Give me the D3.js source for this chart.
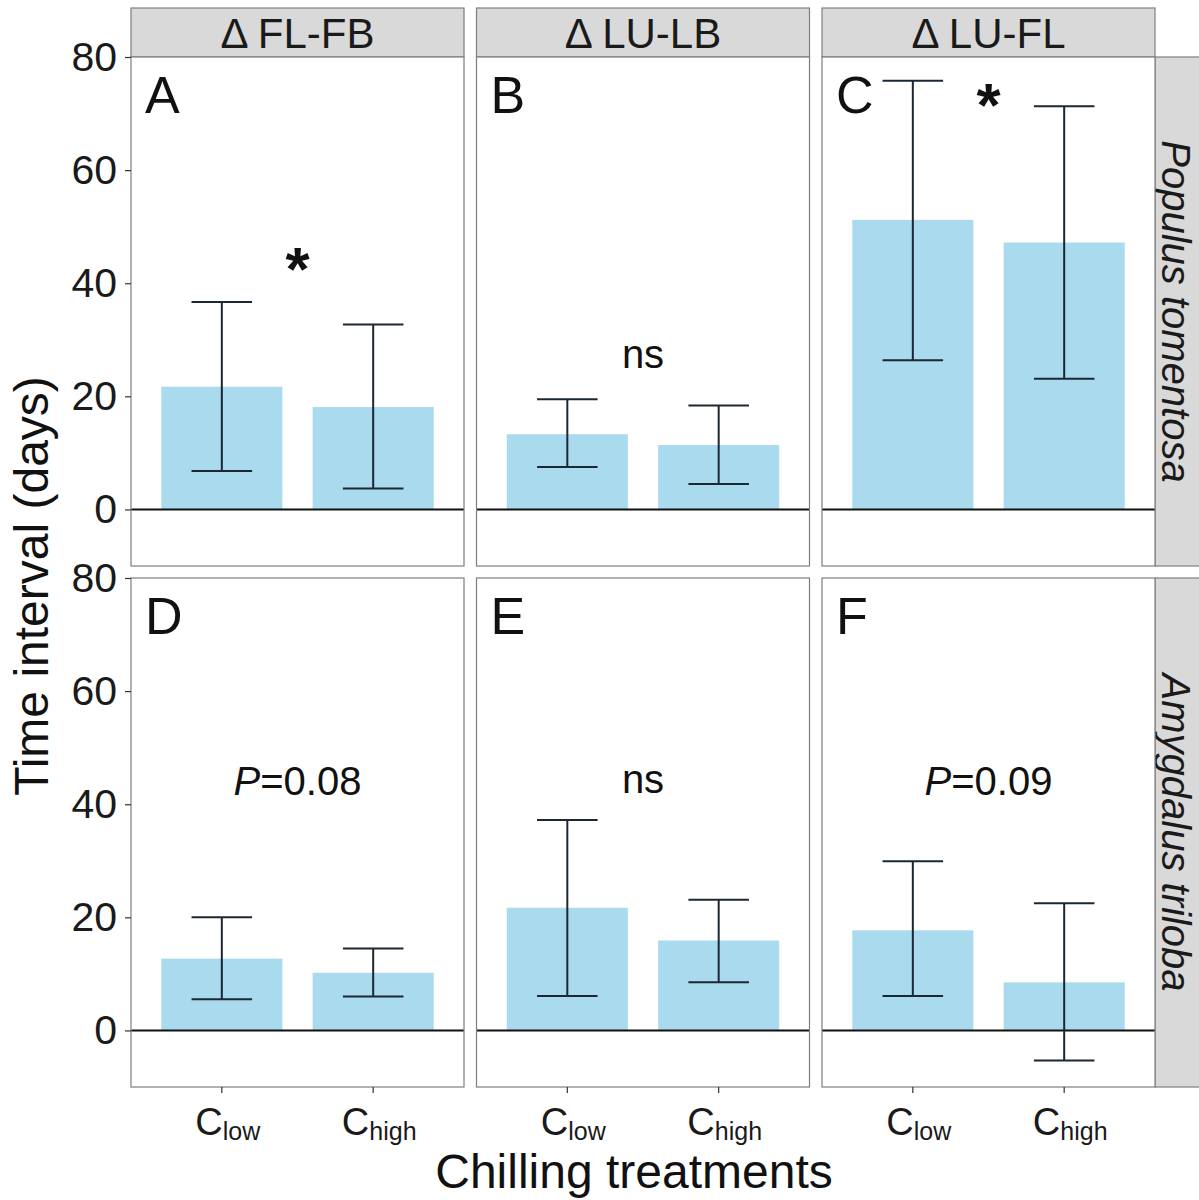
<!DOCTYPE html>
<html>
<head>
<meta charset="utf-8">
<script src="https://cdn.jsdelivr.net/npm/d3@7"></script>
<style>
  html, body { margin: 0; padding: 0; background: #fff; }
  svg { display: block; font-family: "Liberation Sans", Arial, Helvetica, sans-serif; }
</style>
</head>
<body>
<svg id="chart" width="1199" height="1200"></svg>
<script>
// ---- data ----
const categories = ["low", "high"];               // chilling treatments (C_low, C_high)
const traits = ["Δ FL-FB", "Δ LU-LB", "Δ LU-FL"]; // column strips
const species = ["Populus tomentosa", "Amygdalus triloba"]; // row strips
const panelLetters = ["A", "B", "C", "D", "E", "F"];
const meanValues  = [[21.7, 18.1], [13.3, 11.4], [51.2, 47.2], [12.7, 10.2], [21.7, 15.9], [17.7, 8.5]];
const lowerValues = [[6.8, 3.7],   [7.5, 4.5],   [26.4, 23.1], [5.5, 6.0],   [6.1, 8.5],   [6.1, -5.3]];
const upperValues = [[36.7, 32.7], [19.5, 18.4], [75.8, 71.3], [20.0, 14.5], [37.2, 23.1], [29.9, 22.5]];
const annotationText = ["*", "ns", "*", "P=0.08", "ns", "P=0.09"];
const annotationY = [38.8, 25.0, 67.8, 41.7, 42.0, 41.7];
const yTicks = [0, 20, 40, 60, 80];
const yDomain = [-10, 80];

// ---- layout ----
const svg = d3.select("#chart");
const colX = [131, 476.5, 822];
const panelW = 333;
const rowY = [57, 578];
const panelH = 509;
const stripH = 49;
const barColor = "#a9daed";
const borderColor = "#7f7f7f";

const x = d3.scaleBand().domain(categories).range([0, panelW]).paddingInner(0.2).paddingOuter(0.2);
const y = d3.scaleLinear().domain(yDomain).range([panelH, 0]);

// top strips
traits.forEach((t, c) => {
  const g = svg.append("g").attr("transform", `translate(${colX[c]},${rowY[0] - stripH})`);
  g.append("rect").attr("width", panelW).attr("height", stripH)
    .attr("fill", "#d9d9d9").attr("stroke", borderColor).attr("stroke-width", 1.2);
  g.append("text").attr("x", panelW / 2).attr("y", 40).attr("text-anchor", "middle")
    .attr("font-size", 42).attr("fill", "#1a1a1a").text(t);
});

// right strips
species.forEach((s, r) => {
  const g = svg.append("g").attr("transform", `translate(${colX[2] + panelW},${rowY[r]})`);
  g.append("rect").attr("width", stripH).attr("height", panelH)
    .attr("fill", "#d9d9d9").attr("stroke", borderColor).attr("stroke-width", 1.2);
  g.append("text").attr("transform", `translate(7,${panelH / 2}) rotate(90)`)
    .attr("text-anchor", "middle")
    .attr("font-size", 40).attr("font-style", "italic").attr("fill", "#1a1a1a").text(s);
});

// panels
for (let r = 0; r < 2; r++) {
  for (let c = 0; c < 3; c++) {
    const i = r * 3 + c;
    const g = svg.append("g").attr("transform", `translate(${colX[c]},${rowY[r]})`);
    g.append("rect").attr("width", panelW).attr("height", panelH).attr("fill", "#fff");

    const rows = categories.map((k, j) => ({ k, m: meanValues[i][j], lo: lowerValues[i][j], hi: upperValues[i][j] }));

    g.selectAll("rect.bar").data(rows).join("rect").attr("class", "bar")
      .attr("x", d => x(d.k)).attr("width", x.bandwidth())
      .attr("y", d => y(Math.max(0, d.m))).attr("height", d => Math.abs(y(d.m) - y(0)))
      .attr("fill", barColor);

    // zero line
    g.append("line").attr("x1", 0).attr("x2", panelW).attr("y1", y(0)).attr("y2", y(0))
      .attr("stroke", "#111").attr("stroke-width", 2);

    // error bars
    const cap = x.bandwidth() / 2;
    const eb = g.selectAll("g.eb").data(rows).join("g").attr("class", "eb")
      .attr("transform", d => `translate(${x(d.k) + x.bandwidth() / 2},0)`);
    eb.append("line").attr("y1", d => y(d.lo)).attr("y2", d => y(d.hi));
    eb.append("line").attr("x1", -cap / 2).attr("x2", cap / 2).attr("y1", d => y(d.hi)).attr("y2", d => y(d.hi));
    eb.append("line").attr("x1", -cap / 2).attr("x2", cap / 2).attr("y1", d => y(d.lo)).attr("y2", d => y(d.lo));
    eb.selectAll("line").attr("stroke", "#1c2733").attr("stroke-width", 2);

    // panel letter
    g.append("text").attr("x", 14).attr("y", 56).attr("font-size", 52).attr("fill", "#111").text(panelLetters[i]);

    // annotation
    const a = annotationText[i];
    const at = g.append("text").attr("x", panelW / 2).attr("y", y(annotationY[i]))
      .attr("text-anchor", "middle").attr("fill", "#111");
    if (a === "*") {
      at.attr("font-size", 62).attr("font-weight", "bold").text("*");
    } else if (a.startsWith("P=")) {
      at.attr("font-size", 40);
      at.append("tspan").attr("font-style", "italic").text("P");
      at.append("tspan").text(a.slice(1));
    } else {
      at.attr("font-size", 40).text(a);
    }

    // border
    g.append("rect").attr("width", panelW).attr("height", panelH)
      .attr("fill", "none").attr("stroke", borderColor).attr("stroke-width", 1.2);

    // y axis on first column
    if (c === 0) {
      const ax = g.append("g").call(d3.axisLeft(y).tickValues(yTicks).tickSize(6).tickPadding(8).tickFormat(d3.format("d")));
      ax.select(".domain").remove();
      ax.selectAll("line").attr("stroke", "#333").attr("stroke-width", 1.2);
      ax.selectAll("text").attr("font-size", 41).attr("fill", "#1a1a1a")
        .attr("font-family", "'Liberation Sans', Arial, sans-serif");
    }
    // x axis on bottom row
    if (r === 1) {
      const ax = g.append("g").attr("transform", `translate(0,${panelH})`)
        .call(d3.axisBottom(x).tickSize(6).tickFormat(""));
      ax.select(".domain").remove();
      ax.selectAll("line").attr("stroke", "#333").attr("stroke-width", 1.2);
      categories.forEach(k => {
        const t = g.append("text").attr("x", x(k) + x.bandwidth() / 2 + 6).attr("y", panelH + 48)
          .attr("text-anchor", "middle").attr("fill", "#1a1a1a");
        t.append("tspan").attr("font-size", 38).text("C");
        t.append("tspan").attr("font-size", 25).attr("dy", 5).text(k);
      });
    }
  }
}

// axis titles
svg.append("text").attr("transform", "translate(48,586) rotate(-90)").attr("text-anchor", "middle")
  .attr("font-size", 48).attr("fill", "#111").text("Time interval (days)");
svg.append("text").attr("x", 634).attr("y", 1188).attr("text-anchor", "middle")
  .attr("font-size", 48).attr("fill", "#111").text("Chilling treatments");
</script>
</body>
</html>
